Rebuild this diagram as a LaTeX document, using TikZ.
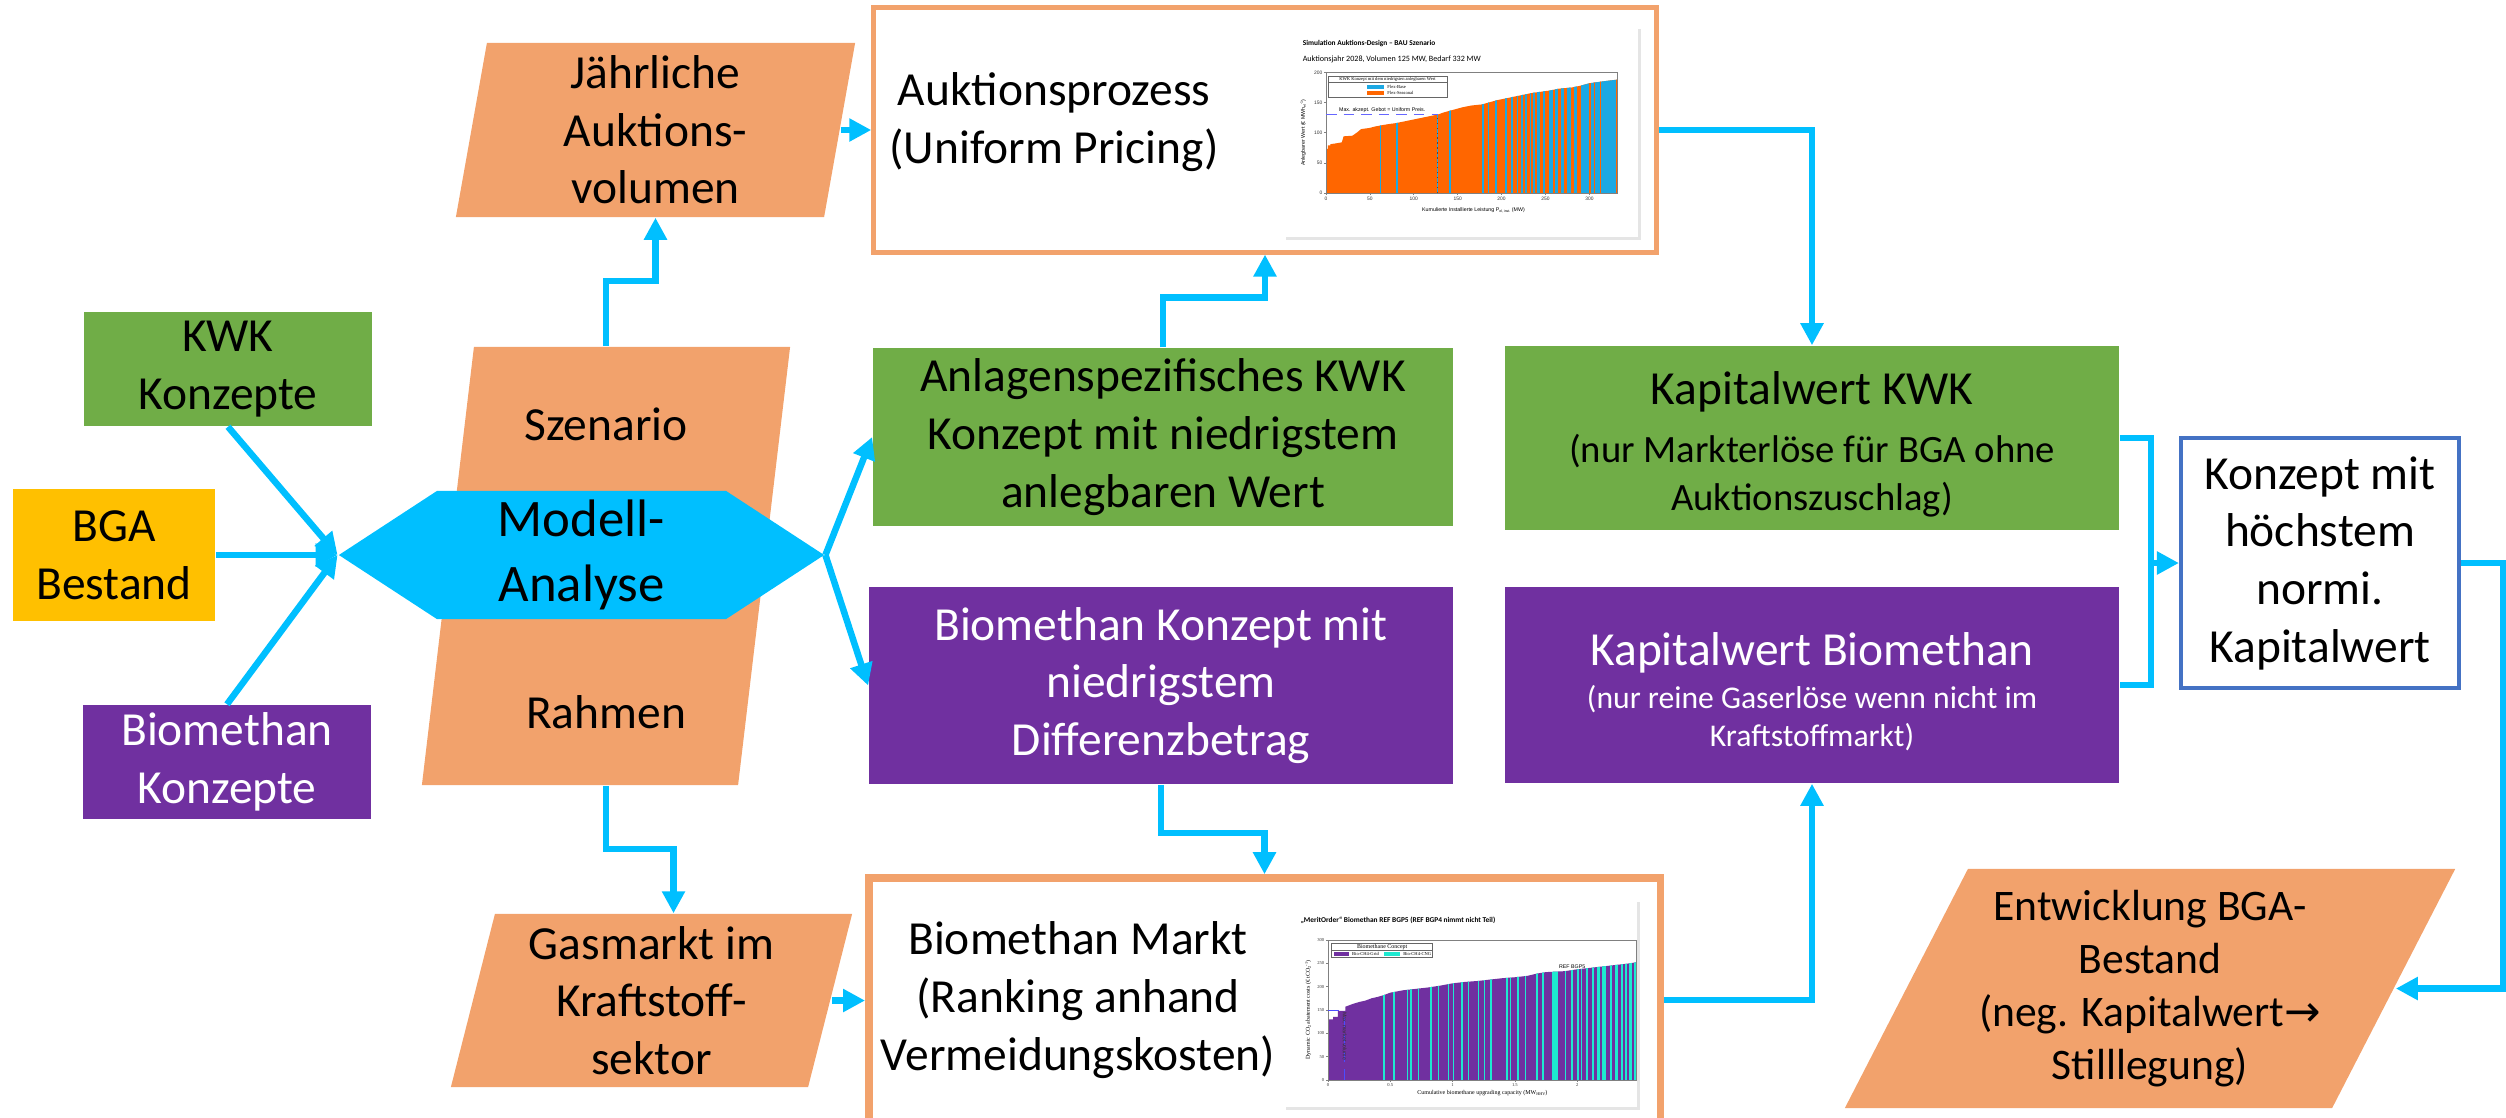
\documentclass[tikz,border=0pt]{standalone}
\usepackage{fontspec}
\setmainfont{Carlito}
\newfontfamily\chartsans{Liberation Sans}
\newfontfamily\chartserif{Liberation Serif}
\newfontfamily\symfont{DejaVu Sans}
\usepackage{xcolor}
\usetikzlibrary{shapes.geometric, shapes.symbols, arrows.meta, positioning}

\definecolor{kwkgreen}{HTML}{70AD47}
\definecolor{bmpurple}{HTML}{7030A0}
\definecolor{bgagold}{HTML}{FFC000}
\definecolor{salmon}{HTML}{F2A26C}
\definecolor{flowblue}{HTML}{00BFFF}
\definecolor{konzblue}{HTML}{4472C4}
\definecolor{aukorange}{HTML}{FF6600}
\definecolor{aukblue}{HTML}{1CA8E3}
\definecolor{bmcyan}{HTML}{1DE9D0}
\definecolor{axisgray}{HTML}{808080}

\newcommand{\boxfont}{\fontsize{13.5pt}{16.4pt}\selectfont}
\newcommand{\hexfont}{\fontsize{15pt}{18.4pt}\selectfont}
\newcommand{\entwfont}{\fontsize{12.4pt}{15pt}\selectfont}
\newcommand{\subafont}{\fontsize{11pt}{13.6pt}\selectfont}
\newcommand{\subbfont}{\fontsize{9pt}{10.8pt}\selectfont}
\newcommand{\ctitlefont}{\bfseries\fontsize{2.1pt}{2.5pt}\selectfont}
\newcommand{\csubfont}{\fontsize{2.3pt}{2.7pt}\selectfont}
\newcommand{\ctickfont}{\chartsans\fontsize{1.4pt}{1.7pt}\selectfont}
\newcommand{\clabfont}{\chartsans\fontsize{1.5pt}{1.8pt}\selectfont}
\newcommand{\stickfont}{\chartserif\fontsize{1.3pt}{1.6pt}\selectfont}
\newcommand{\slabfont}{\chartserif\fontsize{1.7pt}{2pt}\selectfont}
\newcommand{\lowtxt}[2]{\raisebox{-0.35ex}{\fontsize{#1}{#1}\selectfont #2}}
\newcommand{\hightxt}[2]{\raisebox{0.7ex}{\fontsize{#1}{#1}\selectfont #2}}

\def\aukcurve{(0,0) -- (0,73) -- (2,73) -- (2,79) -- (5,79) -- (5,81) -- (10,82) -- (18,84) -- (20,94) -- (30,95) -- (35,100) -- (40,106) -- (50,108) -- (55,110) -- (62,112) -- (70,114) -- (80,116) -- (90,119) -- (100,122) -- (110,125) -- (120,128) -- (127,130) -- (135,134) -- (145,138) -- (155,142) -- (165,145) -- (178,147) -- (185,150) -- (195,154) -- (205,157) -- (215,160) -- (225,163) -- (235,166) -- (245,168) -- (255,170) -- (265,173) -- (280,175) -- (290,178) -- (300,182) -- (310,184) -- (320,186) -- (332,188) -- (332,0) -- cycle}
\def\bmcurve{(0,0) -- (0,130) -- (0.04,130) -- (0.04,135) -- (0.08,135) -- (0.08,148) -- (0.14,148) -- (0.14,157) -- (0.2,163) -- (0.25,167) -- (0.3,170) -- (0.35,175) -- (0.4,178) -- (0.45,182) -- (0.5,187) -- (0.6,192) -- (0.7,195) -- (0.8,198) -- (0.9,202) -- (1.0,207) -- (1.1,210) -- (1.2,212) -- (1.3,215) -- (1.4,218) -- (1.5,220) -- (1.6,223) -- (1.68,228) -- (1.75,231) -- (1.9,233) -- (2.0,237) -- (2.1,240) -- (2.2,243) -- (2.3,246) -- (2.4,249) -- (2.474,252) -- (2.474,0) -- cycle}

\begin{document}
\begin{tikzpicture}[x=0.01cm, y=-0.01cm,
	box/.style={rectangle, inner sep=0pt, align=center, font=\boxfont},
	para/.style={rectangle, inner sep=0pt, align=center, font=\boxfont,
		path picture={\fill[salmon] (path picture bounding box.south west)
			-- ([xshift=#1]path picture bounding box.north west)
			-- (path picture bounding box.north east)
			-- ([xshift=-#1]path picture bounding box.south east) -- cycle;}},
	arrow/.style={-{Triangle[length=0.22cm, width=0.22cm]}, line width=0.065cm, color=flowblue},
	link/.style={line width=0.065cm, color=flowblue},
	tiny/.style={inner sep=0.3pt}
	]
	\useasboundingbox (0,0) rectangle (2506,1117);
	\clip (0,0) rectangle (2506,1117);

	\node[box, fill=kwkgreen, minimum width=2.88cm, minimum height=1.14cm] (kwk) at (228,369) {KWK\\Konzepte};
	\node[box, fill=bgagold, minimum width=2.02cm, minimum height=1.32cm] (bga) at (114,555) {BGA\\Bestand};
	\node[box, fill=bmpurple, text=white, minimum width=2.88cm, minimum height=1.14cm] (bmc) at (227,762) {Biomethan\\Konzepte};

	\node[para=0.52cm, minimum width=3.68cm, minimum height=4.38cm] (szra) at (606,566) {};
	\node[font=\boxfont] (szen) at (606,424) {Szenario};
	\node[font=\boxfont] (rahm) at (606,712) {Rahmen};
	\node[signal, signal to=west and east, signal pointer angle=66.3, fill=flowblue,
		inner sep=0pt, minimum width=4.85cm, minimum height=1.28cm,
		align=center, font=\hexfont] (hex) at (581.5,555) {Modell-\\Analyse};

	\node[para=0.31cm, minimum width=3.99cm, minimum height=1.74cm] (jaehr) at (655.5,130) {J\"ahrliche\\Auktions-\\volumen};
	\node[box, draw=salmon, line width=0.05cm, fill=white, minimum width=7.82cm, minimum height=2.44cm] (auk) at (1265,130) {};
	\node[font=\boxfont, align=center] (auktxt) at (1054,122) {Auktionsprozess\\(Uniform Pricing)};

	\node[box, fill=kwkgreen, minimum width=5.80cm, minimum height=1.78cm] (anl) at (1163,437)
		{Anlagenspezifisches KWK\\Konzept mit niedrigstem\\anlegbaren Wert};
	\node[box, fill=bmpurple, text=white, minimum width=5.84cm, minimum height=1.97cm] (bmk) at (1161,685.5)
		{Biomethan Konzept mit\\niedrigstem\\Differenzbetrag};

	\node[box, fill=kwkgreen, minimum width=6.14cm, minimum height=1.84cm] (kwkkw) at (1812,438) {};
	\node[font=\boxfont] (kwktitle) at (1812,392) {Kapitalwert KWK};
	\node[font=\subafont, align=center] (kwksub) at (1812,476) {(nur Markterl\"ose f\"ur BGA ohne\\Auktionszuschlag)};
	\node[box, fill=bmpurple, minimum width=6.14cm, minimum height=1.96cm] (bmkw) at (1812,685) {};
	\node[font=\boxfont, text=white] (bmtitle) at (1812,653) {Kapitalwert Biomethan};
	\node[font=\subbfont, text=white, align=center] (bmsub) at (1812,718) {(nur reine Gaserl\"ose wenn nicht im\\Kraftstoffmarkt)};
	\node[box, draw=konzblue, line width=0.04cm, fill=white, minimum width=2.78cm, minimum height=2.50cm] (konz) at (2320,563)
		{Konzept mit\\h\"ochstem\\normi.\\Kapitalwert};
	\node[para=1.23cm, minimum width=6.10cm, minimum height=2.39cm, font=\entwfont] (entw) at (2150,988.5)
		{Entwicklung BGA-\\Bestand\\(neg. Kapitalwert{\symfont →}\\Stilllegung)};

	\node[para=0.44cm, minimum width=4.01cm, minimum height=1.73cm] (gasm) at (651.5,1000.5) {Gasmarkt im\\Kraftstoff-\\sektor};
	\node[box, draw=salmon, line width=0.075cm, fill=white, minimum width=7.91cm, minimum height=2.44cm] (bmm) at (1264.5,1000) {};
	\node[font=\boxfont, align=center] (bmmtxt) at (1078,1000) {Biomethan Markt\\(Ranking anhand\\Vermeidungskosten)};

	\draw[arrow] (kwk.south) -- (hex.west);
	\draw[arrow] (bga.east) -- (hex.west);
	\draw[arrow] (bmc.north) -- (hex.west);
	\draw[arrow] (hex.east) -- (anl.west);
	\draw[arrow] (hex.east) -- (bmk.west);
	\draw[arrow] (szra.north) -- ++(0,-65) -| (jaehr.south);
	\draw[arrow] (szra.south) -- ++(0,63) -| ([xshift=0.22cm]gasm.north);
	\draw[arrow] ([xshift=-0.15cm]jaehr.east) -- (jaehr.east -| auk.west);
	\draw[arrow] ([xshift=-0.21cm]gasm.east) -- (gasm.east -| bmm.west);
	\draw[arrow] (anl.north) -- ++(0,-50) -| (auk.south);
	\draw[arrow] (bmk.south) -- ++(0,48) -| (bmm.north);
	\draw[arrow] (auk.east) -| (kwkkw.north);
	\draw[arrow] (bmm.east) -| (bmkw.south);
	\draw[link] (kwkkw.east) -- ++(31,0) coordinate (brk) |- (bmkw.east);
	\draw[arrow] (brk |- konz.west) -- (konz.west);
	\draw[arrow] (konz.east) -- ++(42,0) |- ([xshift=-0.6cm]entw.east);

	% auction chart
	\fill[black!20, opacity=0.5] (1286,29) rectangle (1641,240);
	\fill[white] (1283,25) rectangle (1638,237);
	\node[anchor=west, font=\ctitlefont, tiny] (auktitle) at (1301,44) {Simulation Auktions-Design – BAU Szenario};
	\node[anchor=west, font=\csubfont, tiny] (auksub) at (1301,59) {Auktionsjahr 2028, Volumen 125 MW, Bedarf 332 MW};
	\begin{scope}[shift={(1326,193)}, x=0.00877cm, y=0.006033cm]
		\begin{scope}
			\clip \aukcurve;
			\fill[aukorange] (0,0) rectangle (332,200);
			\fill[aukblue] (290,0) rectangle (332,200);
			\foreach \s/\w in {61/2, 80/2, 126/2, 140/2, 178/2, 184/2, 193/2, 204/2, 211/2, 217/2, 222/2,
				227/2, 232/2, 236/2, 240/4, 247/3, 254/4, 261/3, 268/3, 275/4, 283/3}
				\fill[aukblue] (\s,0) rectangle ++(\w,200);
			\foreach \s in {300, 305, 312, 330}
				\fill[aukorange] (\s,0) rectangle ++(1.5,200);
		\end{scope}
		\draw[axisgray, line width=0.2pt] (0,0) rectangle (332,200);
		\foreach \v in {0,50,...,200}
			\draw[axisgray, line width=0.2pt] (0,\v) -- (-2.5,\v) node[left, tiny, font=\ctickfont, text=black!80] {\v};
		\foreach \v in {0,50,...,300}
			\draw[axisgray, line width=0.2pt] (\v,0) -- (\v,-4) node[below, tiny, font=\ctickfont, text=black!80] {\v};
		\node[rotate=90, tiny, font=\clabfont] (auky) at (-26,100) {Anlegbarer Wert (€ MWh\lowtxt{1pt}{el}\hightxt{1pt}{-1})};
		\node[tiny, font=\clabfont] (aukx) at (168,-28) {Kumulierte Installierte Leistung P\lowtxt{1pt}{el, inst.} (MW)};
		\draw[blue!60, densely dashed, line width=0.3pt] (0,130) -- (127,130);
		\draw[black!70, densely dotted, line width=0.4pt] (127,0) -- (127,130);
		\node[tiny, font=\clabfont] (aukmax) at (64,138) {Max. akzept. Gebot = Uniform Preis.};
		\draw[black!60, fill=white, line width=0.2pt] (2.5,159) rectangle (138,194);
		\draw[black!60, line width=0.2pt] (2.5,184) -- (138,184);
		\node[tiny, font=\stickfont] (aukleg) at (70,189) {KWK Konzept mit dem niedrigsten anlegbaren Wert};
		\fill[aukblue] (47,173) rectangle (66,179);
		\fill[aukorange] (47,163) rectangle (66,169);
		\node[anchor=west, tiny, font=\stickfont] (aukbase) at (68,176) {Flex-Base};
		\node[anchor=west, tiny, font=\stickfont] (aukseas) at (68,166) {Flex-Seasonal};
	\end{scope}

	% merit order chart
	\fill[black!20, opacity=0.5] (1286,902) rectangle (1640,1110);
	\fill[white] (1283,898) rectangle (1637,1107);
	\node[anchor=west, font=\ctitlefont, tiny] (motitle) at (1299,920) {„MeritOrder“ Biomethan REF BGP5 (REF BGP4 nimmt nicht Teil)};
	\begin{scope}[shift={(1328,1080)}, x=1.245cm, y=0.00467cm]
		\begin{scope}
			\clip \bmcurve;
			\fill[bmpurple] (0,0) rectangle (2.474,300);
			\foreach \s/\w in {0.44/0.015, 0.52/0.015, 0.63/0.012, 0.66/0.012, 0.72/0.012, 0.82/0.012,
				0.88/0.012, 0.96/0.012, 1.0/0.012, 1.07/0.012, 1.12/0.015, 1.2/0.012, 1.25/0.012,
				1.3/0.015, 1.43/0.012, 1.46/0.012, 1.52/0.015, 1.58/0.012, 1.67/0.012, 1.72/0.012,
				1.8/0.05, 1.9/0.012, 1.95/0.015, 2.0/0.015, 2.03/0.012, 2.07/0.02, 2.12/0.015,
				2.16/0.02, 2.2/0.03, 2.26/0.02, 2.3/0.03, 2.35/0.02, 2.38/0.02, 2.42/0.02, 2.46/0.02}
				\fill[bmcyan] (\s,0) rectangle ++(\w,300);
		\end{scope}
		\draw[axisgray, line width=0.2pt] (0,0) rectangle (2.474,300);
		\foreach \v in {0,50,...,300}
			\draw[axisgray, line width=0.2pt] (0,\v) -- (-0.02,\v) node[left, tiny, font=\stickfont, text=black!80] {\v};
		\foreach \v in {0,0.5,1,1.5,2}
			\draw[axisgray, line width=0.2pt] (\v,0) -- (\v,-5) node[below, tiny, font=\stickfont, text=black!80] {\v};
		\node[rotate=90, tiny, font=\slabfont] (moy) at (-0.16,150) {Dynamic CO\lowtxt{1.2pt}{2} abatement costs (€ tCO\lowtxt{1.2pt}{2}\hightxt{1.2pt}{-1})};
		\node[tiny, font=\slabfont] (mox) at (1.24,-28) {Cumulative biomethane upgrading capacity (MW\lowtxt{1.2pt}{HHV})};
		\draw[blue!70, densely dashed, line width=0.3pt] (0,148) -- (0.135,148);
		\draw[blue!70, densely dashed, line width=0.3pt] (0.135,0) -- (0.135,148);
		\node[rotate=-90, tiny, font=\clabfont, text=black!80] (momax) at (0.135,94) {Max. market volume};
		\node[tiny, font=\clabfont] (moref) at (1.96,242) {REF BGP5};
		\draw[black!60, fill=white, line width=0.2pt] (0.03,263) rectangle (0.84,293);
		\draw[black!60, line width=0.2pt] (0.03,278) -- (0.84,278);
		\node[tiny, font=\slabfont] (moleg) at (0.435,285.5) {Biomethane Concept};
		\fill[bmpurple] (0.05,266) rectangle (0.17,275);
		\fill[bmcyan] (0.45,266) rectangle (0.58,275);
		\node[anchor=west, tiny, font=\stickfont] (mogrid) at (0.18,270.5) {Bio-CH4-Grid};
		\node[anchor=west, tiny, font=\stickfont] (mocng) at (0.59,270.5) {Bio-CH4-CNG};
	\end{scope}
\end{tikzpicture}
\end{document}
